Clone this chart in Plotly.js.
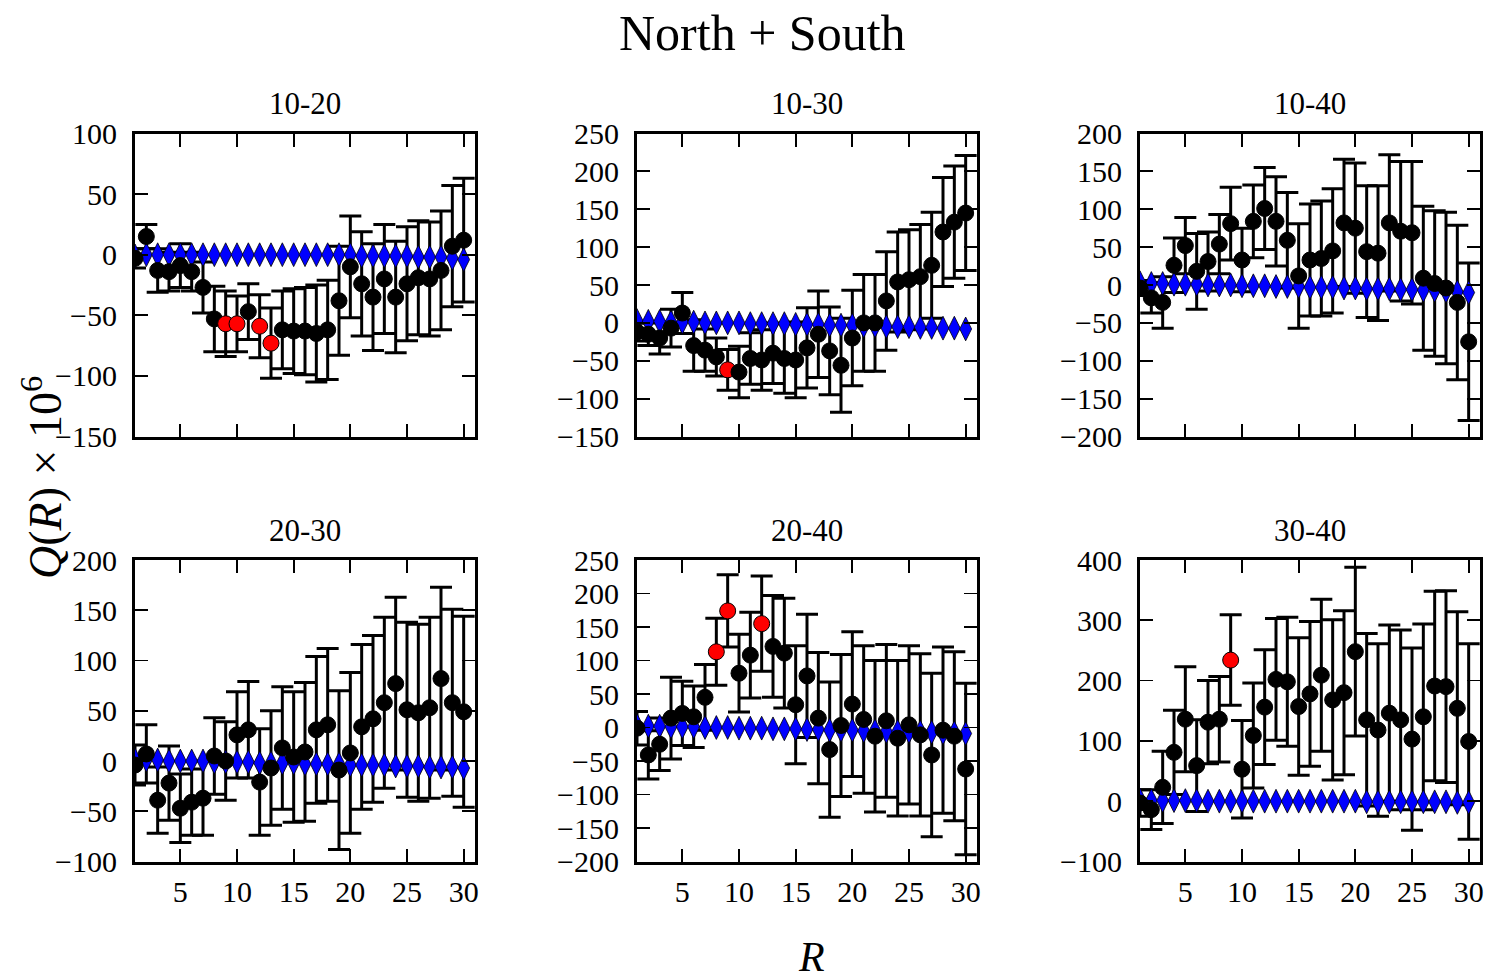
<!DOCTYPE html>
<html>
<head>
<meta charset="utf-8">
<script src="https://cdn.plot.ly/plotly-3.0.1.min.js"></script>
<style>
  html, body { margin: 0; padding: 0; background: #ffffff; }
  #chart { width: 1488px; height: 980px; }
</style>
</head>
<body>
<div id="chart"></div>
<script>
// Radial bin index shared by every panel
const R = [1, 2, 3, 4, 5, 6, 7, 8, 9, 10, 11, 12, 13, 14, 15,
           16, 17, 18, 19, 20, 21, 22, 23, 24, 25, 26, 27, 28, 29, 30];

// Panel labels
const panelNames = ['10-20', '10-30', '10-40', '20-30', '20-40', '30-40'];

// Measured Q(R) x 1e6, its 1-sigma error, model curve, and flagged bins
const q1020   = [-3, 15, -13, -14, -9, -14, -27, -53, -57, -57, -47, -59, -73, -62, -63,
                 -63, -65, -62, -38, -10, -24, -35, -20, -35, -24, -19, -20, -13, 7, 12];
const err1020 = [8, 10, 18, 16, 18, 16, 21, 27, 27, 23, 23, 26, 29, 32, 35,
                 36, 40, 41, 45, 42, 43, 44, 45, 46, 47, 47, 47, 49, 50, 51];
const model1020 = [-1, 0, 0, 0, 0, 0, 0, 0, 0, 0, 0, 0, 0, 0, 0,
                   0, 0, 0, 0, 0, -1, -1, -1, -1, -1, -2, -2, -2, -3, -4];
const flag1020 = [9, 10, 12, 13];

const q1030   = [-12, -15, -20, -7, 13, -30, -36, -45, -62, -65, -47, -49, -40, -47, -49,
                 -33, -15, -37, -56, -20, 0, 0, 29, 54, 57, 61, 76, 120, 133, 145];
const err1030 = [12, 15, 21, 25, 27, 34, 28, 25, 27, 34, 34, 40, 40, 46, 50,
                 53, 57, 58, 62, 63, 64, 64, 65, 66, 66, 69, 70, 72, 74, 76];
const model1030 = [3, 2, 2, 1, 1, 1, 0, 0, 0, 0, -1, -1, -1, -1, -2,
                   -2, -2, -3, -3, -3, -4, -4, -5, -5, -5, -6, -6, -7, -7, -8];
const flag1030 = [9];

const q1040   = [-4, -17, -23, 26, 52, 18, 31, 54, 81, 33, 84, 101, 84, 59, 12,
                 33, 35, 45, 82, 75, 44, 42, 82, 71, 69, 9, 2, -4, -23, -75];
const err1040 = [10, 20, 34, 36, 37, 50, 39, 39, 48, 42, 48, 54, 59, 63, 69,
                 74, 76, 82, 84, 86, 87, 89, 90, 92, 94, 95, 96, 100, 102, 104];
const model1040 = [3, 2, 2, 1, 1, 1, 0, 0, 0, -1, -1, -1, -2, -2, -2,
                   -3, -3, -3, -4, -4, -5, -5, -5, -6, -6, -7, -7, -8, -9, -10];
const flag1040 = [];

const q2030   = [-4, 7, -39, -22, -47, -41, -37, 5, 0, 26, 31, -21, -7, 13, 4,
                 9, 31, 36, -9, 8, 34, 42, 58, 77, 51, 48, 53, 82, 58, 49];
const err2030 = [20, 29, 33, 37, 34, 33, 37, 38, 39, 43, 48, 53, 57, 61, 65,
                 69, 73, 76, 79, 80, 82, 83, 85, 86, 87, 88, 90, 91, 93, 95];
const model2030 = [1, 1, 1, 0, 0, 0, 0, -1, -1, -1, -1, -2, -2, -2, -2,
                   -3, -3, -3, -3, -4, -4, -4, -4, -5, -5, -5, -6, -6, -6, -7];
const flag2030 = [];

const q2040   = [-1, -41, -25, 14, 21, 16, 45, 113, 174, 81, 108, 155, 121, 111, 34,
                 77, 14, -33, 3, 35, 12, -13, 10, -16, 4, -11, -41, -4, -13, -62];
const err2040 = [25, 36, 39, 61, 48, 46, 49, 50, 54, 58, 64, 71, 76, 82, 88,
                 92, 98, 101, 106, 108, 110, 113, 114, 116, 118, 121, 122, 124, 126, 128];
const model2040 = [3, 2, 2, 1, 1, 1, 0, 0, 0, -1, -1, -1, -2, -2, -2,
                   -3, -3, -4, -4, -4, -5, -5, -6, -6, -6, -7, -7, -8, -8, -9];
const flag2040 = [8, 9, 12];

const q3040   = [-3, -14, 23, 81, 136, 59, 131, 136, 234, 53, 109, 156, 202, 198, 157,
                 178, 209, 168, 180, 248, 135, 118, 146, 135, 103, 140, 191, 190, 154, 99];
const err3040 = [22, 33, 60, 70, 87, 76, 69, 71, 75, 81, 87, 95, 101, 107, 114,
                 120, 126, 133, 136, 140, 143, 143, 146, 149, 151, 154, 157, 159, 160, 162];
const model3040 = [2, 1, 1, 1, 1, 1, 0, 0, 0, 0, 0, 0, 0, 0, 0,
                   0, 0, 0, 0, 0, -1, -1, -1, -1, -1, -1, -1, -1, -2, -2];
const flag3040 = [9];

const panels = [
  { name: panelNames[0], q: q1020, err: err1020, model: model1020, flag: flag1020 },
  { name: panelNames[1], q: q1030, err: err1030, model: model1030, flag: flag1030 },
  { name: panelNames[2], q: q1040, err: err1040, model: model1040, flag: flag1040 },
  { name: panelNames[3], q: q2030, err: err2030, model: model2030, flag: flag2030 },
  { name: panelNames[4], q: q2040, err: err2040, model: model2040, flag: flag2040 },
  { name: panelNames[5], q: q3040, err: err3040, model: model3040, flag: flag3040 }
];

// Axis geometry (pixels in a 1488 x 980 figure) and y scales per panel
const W = 1488, H = 980;
const colsPx = [[135, 475], [637, 977], [1140, 1480]];
const rowsPx = [[133.5, 436.5], [560, 861.5]];
const yRanges = [[-150, 100], [-150, 250], [-200, 200], [-100, 200], [-200, 250], [-100, 400]];
const yDticks = [50, 50, 50, 50, 50, 100];

const FONT = 'Liberation Serif, Times New Roman, serif';
const traces = [];
const layout = {
  width: W, height: H,
  margin: { l: 0, r: 0, t: 0, b: 0 },
  paper_bgcolor: '#ffffff', plot_bgcolor: '#ffffff',
  showlegend: false,
  font: { family: FONT, color: '#000000' },
  annotations: []
};

panels.forEach((p, i) => {
  const row = Math.floor(i / 3), col = i % 3;
  const n = i + 1;
  const xa = n === 1 ? 'x' : 'x' + n;
  const ya = n === 1 ? 'y' : 'y' + n;
  const colors = R.map(r => p.flag.includes(r) ? '#ff0000' : '#000000');

  // error bars underneath everything else
  traces.push({
    x: R, y: p.q, xaxis: xa, yaxis: ya, type: 'scatter', mode: 'markers',
    marker: { size: 1, color: 'rgba(0,0,0,0)' },
    error_y: { type: 'data', array: p.err, visible: true, color: '#000000', thickness: 3, width: 11 },
    hoverinfo: 'skip'
  });
  // model curve
  traces.push({
    x: R, y: p.model, xaxis: xa, yaxis: ya, type: 'scatter', mode: 'markers',
    marker: { symbol: 'diamond-tall', size: 17, color: '#0000ff', line: { color: '#000000', width: 0.8 } }
  });
  // measured points
  traces.push({
    x: R, y: p.q, xaxis: xa, yaxis: ya, type: 'scatter', mode: 'markers',
    marker: { symbol: 'circle', size: 16, color: colors, line: { color: '#000000', width: 1 } }
  });

  const xd = [colsPx[col][0] / W, colsPx[col][1] / W];
  const yd = [1 - rowsPx[row][1] / H, 1 - rowsPx[row][0] / H];
  const common = {
    ticks: 'inside', ticklen: 13, tickwidth: 1.8, tickcolor: '#000000',
    showline: true, linewidth: 3, linecolor: '#000000', mirror: 'ticks',
    showgrid: false, zeroline: false, fixedrange: true,
    tickfont: { family: FONT, size: 30, color: '#000000' }
  };
  layout['xaxis' + (n === 1 ? '' : n)] = Object.assign({}, common, {
    domain: xd, range: [1, 31], tick0: 0, dtick: 5, anchor: ya,
    showticklabels: row === 1, ticklabelstandoff: 1
  });
  layout['yaxis' + (n === 1 ? '' : n)] = Object.assign({}, common, {
    domain: yd, range: yRanges[i], tick0: 0, dtick: yDticks[i], anchor: xa,
    ticklabelstandoff: 9
  });

  layout.annotations.push({
    text: p.name, xref: 'paper', yref: 'paper',
    x: (xd[0] + xd[1]) / 2, y: 1 - (rowsPx[row][0] - 30) / H,
    xanchor: 'center', yanchor: 'middle', showarrow: false,
    font: { family: FONT, size: 31, color: '#000000' }
  });
});

// Figure title and shared axis labels
layout.annotations.push({
  text: 'North + South', xref: 'paper', yref: 'paper',
  x: 762 / W, y: 1 - 33 / H, xanchor: 'center', yanchor: 'middle', showarrow: false,
  font: { family: FONT, size: 50, color: '#000000' }
});
layout.annotations.push({
  text: '<i>Q</i>(<i>R</i>) × 10<sup>6</sup>', xref: 'paper', yref: 'paper',
  x: 42 / W, y: 1 - 478 / H, xanchor: 'center', yanchor: 'middle', showarrow: false,
  textangle: -90,
  font: { family: FONT, size: 46, color: '#000000' }
});
layout.annotations.push({
  text: '<i>R</i>', xref: 'paper', yref: 'paper',
  x: 812 / W, y: 1 - 957 / H, xanchor: 'center', yanchor: 'middle', showarrow: false,
  font: { family: FONT, size: 42, color: '#000000' }
});

Plotly.newPlot('chart', traces, layout, { displayModeBar: false, staticPlot: true });
</script>
</body>
</html>
